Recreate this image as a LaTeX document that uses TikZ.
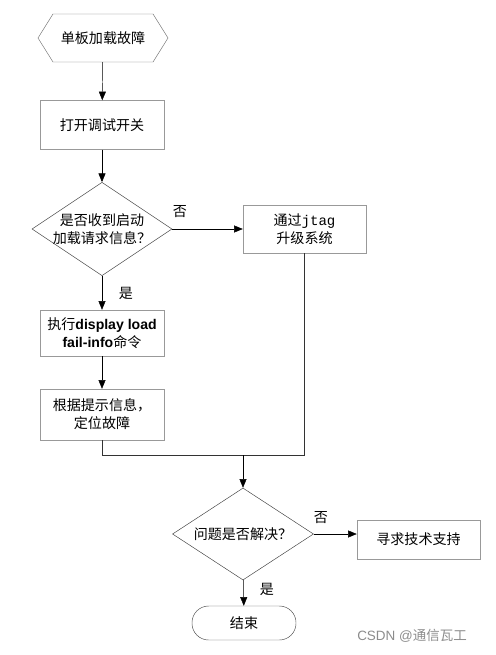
\documentclass[tikz,border=0pt]{standalone}
\usepackage{fontspec}
\setmainfont{Noto Sans CJK SC}
\newfontfamily\latinbold{Liberation Sans}
\newfontfamily\monofont{Liberation Mono}
\usetikzlibrary{shapes.geometric, shapes.symbols, arrows.meta}

\begin{document}
\begin{tikzpicture}[x=0.03cm, y=-0.03cm,
  font=\fontsize{12}{15.5}\selectfont,
  box/.style={draw=black!40, rectangle, minimum width=3.72cm, minimum height=1.47cm, align=center, inner sep=1pt},
  choice/.style={draw=black!75, diamond, inner sep=0pt, minimum width=4.2cm, minimum height=2.8cm},
  arrow/.style={-{Triangle[length=2.6mm, width=2.1mm]}, black},
  link/.style={black!80}]

\useasboundingbox (0,0) rectangle (495,655);

% steps down the left column
\node[draw=black!55, signal, signal to=west and east, signal pointer angle=116,
      minimum width=3.9cm, minimum height=1.44cm, inner sep=0pt] (fault) at (103,38) {单板加载故障};
\node[box] (debug) at (102,125) {打开调试开关};
\node[choice, label={[align=center]center:是否收到启动\\加载请求信息？}] (request) at (102,229) {};
\node[box, minimum width=3.69cm, minimum height=1.44cm] (jtag) at (304.5,229) {通过{\monofont jtag}\\升级系统};
\node[box, minimum height=1.38cm] (command) at (102,333) {执行{\latinbold\bfseries display load}\\{\latinbold\bfseries fail-info}命令};
\node[box, minimum height=1.53cm] (locate) at (102,414.5) {根据提示信息，\\定位故障};

% second decision
\coordinate (join) at (243,455);
\node[choice, minimum width=4.23cm, minimum height=2.76cm, label={center:问题是否解决？}] (solved) at (243,534) {};
\node[box, minimum width=3.69cm, minimum height=1.17cm] (support) at (418.5,539.5) {寻求技术支持};
\node[draw=black!70, rectangle, rounded corners=0.5cm, minimum width=3.12cm, minimum height=1.02cm] (finish) at (244,623) {结束};

% labels
\node (no1) at (180,212) {否};
\node (yes1) at (126,293) {是};
\node (no2) at (321,518) {否};
\node (yes2) at (267,589) {是};
\node[text=black!45, font=\fontsize{11.5}{14}\selectfont] (mark) at (412,636) {{\latinbold CSDN @}通信瓦工};

\draw[arrow] (fault) -- (debug);
\draw[arrow] (debug) -- (request);
\draw[arrow] (request) -- (jtag);
\draw[arrow] (request) -- (command);
\draw[arrow] (command) -- (locate);
\draw[link] (locate.south) |- (join);
\draw[link] (jtag.south) |- (join);
\draw[arrow] (join) -- (solved.north);
\draw[arrow] (solved.east) -- (solved.east -| support.west);
\draw[arrow] (solved) -- (finish);
\end{tikzpicture}
\end{document}
